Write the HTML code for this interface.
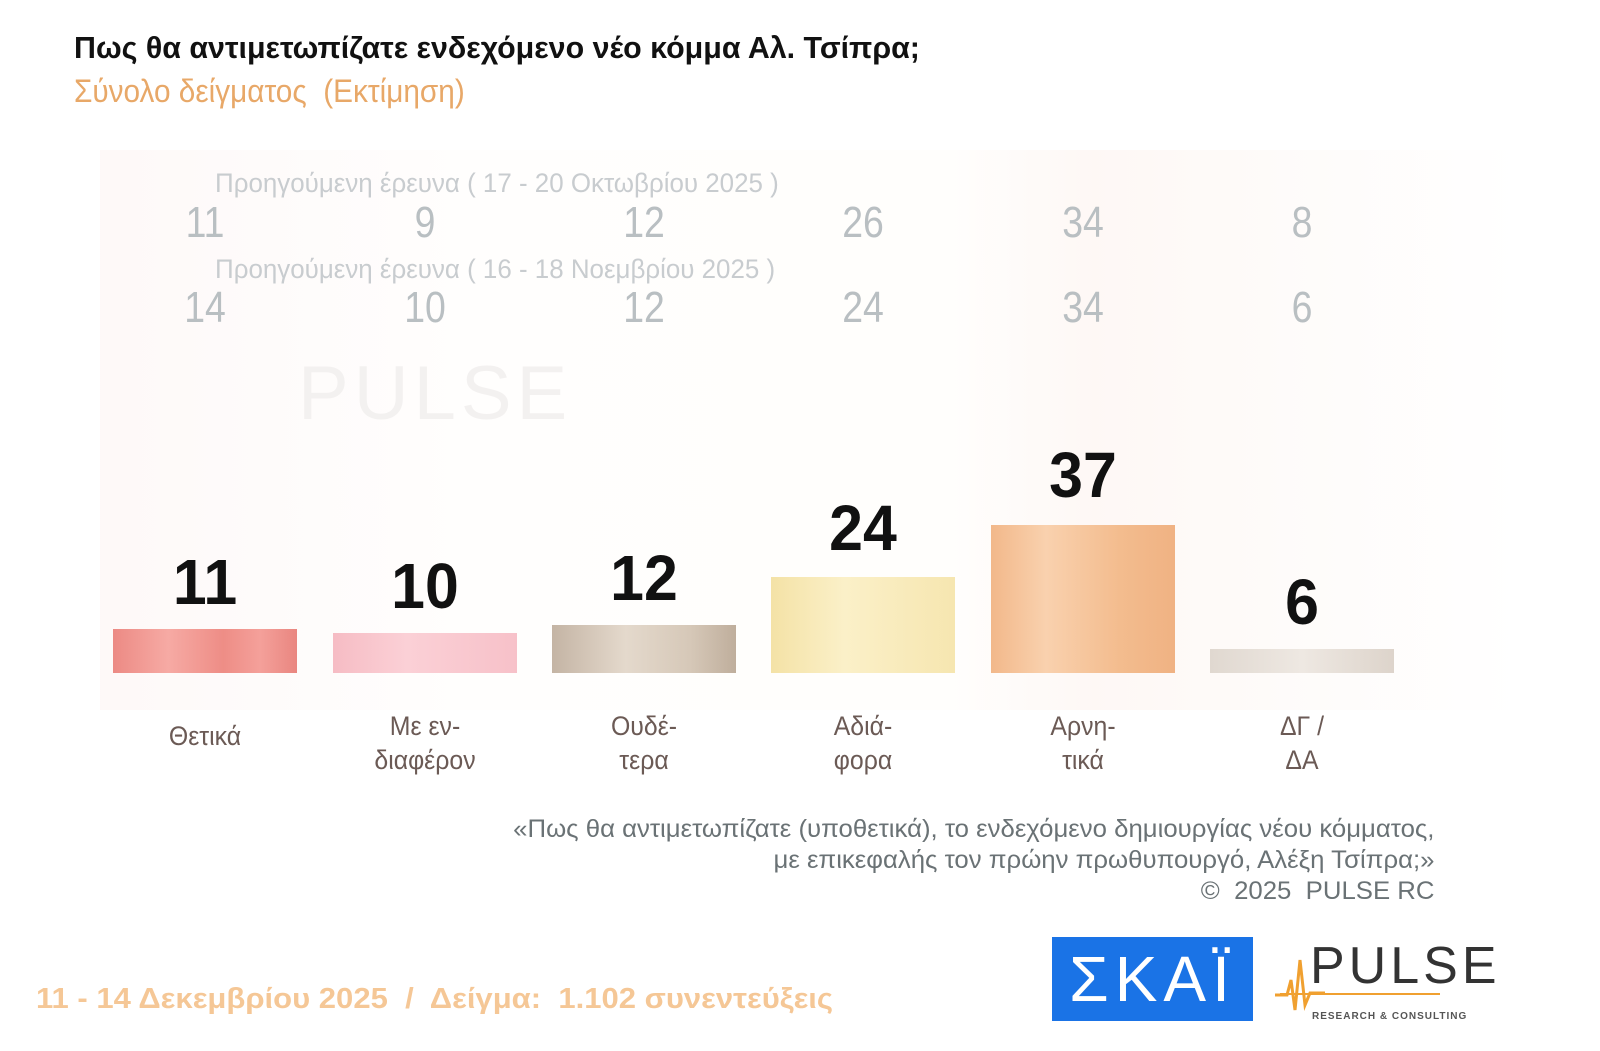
<!DOCTYPE html>
<html><head><meta charset="utf-8"><style>
body{margin:0;width:1600px;height:1051px;background:#fff;position:relative;overflow:hidden;font-family:"Liberation Sans",sans-serif}
.a{position:absolute;white-space:nowrap}
.bar{position:absolute;width:184px;bottom:378px}
.v{position:absolute;font-weight:bold;font-size:64px;color:#111;transform:translateX(-50%) scaleX(.95);}
.o{position:absolute;font-size:44px;color:#b9bfc2;transform:translateX(-50%) scaleX(.85)}
.l{position:absolute;font-size:27px;color:#6b5a55;transform:translateX(-50%) scaleX(.92);text-align:center;line-height:34px}
</style></head><body>
<div class="a" style="left:100px;top:150px;width:1420px;height:560px;background:linear-gradient(90deg,#fdf6f5 0,#fffdfc 25%,#fffdfb 60%,#fdf5f1 70%,#fff 100%);opacity:.7"></div>
<div class="a" style="left:74px;top:30px;font-size:31px;font-weight:bold;color:#111;transform:scaleX(.98);transform-origin:left">Πως θα αντιμετωπίζατε ενδεχόμενο νέο κόμμα Αλ. Τσίπρα;</div>
<div class="a" style="left:74px;top:73px;font-size:32px;color:#e8a868;transform:scaleX(.93);transform-origin:left">Σύνολο δείγματος&nbsp; (Εκτίμηση)</div>
<div class="a" style="left:215px;top:168px;font-size:27px;color:#c8cccf;transform:scaleX(.96);transform-origin:left">Προηγούμενη έρευνα ( 17 - 20 Οκτωβρίου 2025 )</div>
<div class="a" style="left:215px;top:254px;font-size:27px;color:#c8cccf;transform:scaleX(.96);transform-origin:left">Προηγούμενη έρευνα ( 16 - 18 Νοεμβρίου 2025 )</div>
<div class="a" style="left:298px;top:350px;font-size:76px;color:#f3f1f0;letter-spacing:5px">PULSE</div>
<div class="o" style="left:205px;top:198px">11</div><div class="o" style="left:425px;top:198px">9</div><div class="o" style="left:644px;top:198px">12</div><div class="o" style="left:863px;top:198px">26</div><div class="o" style="left:1083px;top:198px">34</div><div class="o" style="left:1302px;top:198px">8</div>
<div class="o" style="left:205px;top:283px">14</div><div class="o" style="left:425px;top:283px">10</div><div class="o" style="left:644px;top:283px">12</div><div class="o" style="left:863px;top:283px">24</div><div class="o" style="left:1083px;top:283px">34</div><div class="o" style="left:1302px;top:283px">6</div>
<div class="bar" style="left:113px;height:44px;background:linear-gradient(90deg,#ec8a84,#f6aaa4 30%,#ee8d86 60%,#f4a09a 80%,#e98680)"></div>
<div class="bar" style="left:333px;height:40px;background:linear-gradient(90deg,#f6bcc4,#fbd0d6 40%,#f7c1c9)"></div>
<div class="bar" style="left:552px;height:48px;background:linear-gradient(90deg,#c4b4a4,#e4d9cc 40%,#d6c8b8 75%,#bfae9c)"></div>
<div class="bar" style="left:771px;height:96px;background:linear-gradient(90deg,#f4e2a6,#fbf0c8 40%,#f6e6b0)"></div>
<div class="bar" style="left:991px;height:148px;background:linear-gradient(90deg,#f2b88a,#f9d1ae 30%,#f3bc8e 70%,#f0b283)"></div>
<div class="bar" style="left:1210px;height:24px;background:linear-gradient(90deg,#e0d8d0,#eee8e2 50%,#ddd4cb)"></div>
<div class="v" style="left:205px;top:545px">11</div>
<div class="v" style="left:425px;top:549px">10</div>
<div class="v" style="left:644px;top:541px">12</div>
<div class="v" style="left:863px;top:491px">24</div>
<div class="v" style="left:1083px;top:438px">37</div>
<div class="v" style="left:1302px;top:565px">6</div>
<div class="l" style="left:205px;top:719px">Θετικά</div>
<div class="l" style="left:425px;top:709px">Με εν-<br>διαφέρον</div>
<div class="l" style="left:644px;top:709px">Ουδέ-<br>τερα</div>
<div class="l" style="left:863px;top:709px">Αδιά-<br>φορα</div>
<div class="l" style="left:1083px;top:709px">Αρνη-<br>τικά</div>
<div class="l" style="left:1302px;top:709px">ΔΓ /<br>ΔΑ</div>
<div class="a" style="right:166px;top:814px;font-size:25px;color:#6a7275;text-align:right;line-height:31px;transform:scaleX(1.03);transform-origin:right">«Πως θα αντιμετωπίζατε (υποθετικά), το ενδεχόμενο δημιουργίας νέου κόμματος,<br>με επικεφαλής τον πρώην πρωθυπουργό, Αλέξη Τσίπρα;»<br>©&nbsp; 2025&nbsp; PULSE RC</div>
<div class="a" style="left:36px;top:983px;font-size:29px;font-weight:bold;color:#f5c796;transform:scaleX(1.07);transform-origin:left">11 - 14 Δεκεμβρίου 2025&nbsp; /&nbsp; Δείγμα:&nbsp; 1.102 συνεντεύξεις</div>
<div class="a" style="left:1052px;top:937px;width:201px;height:84px;background:#1a73e6;color:#fff;font-size:64px;line-height:84px;text-align:center;letter-spacing:6px">ΣΚΑΪ</div>
<div class="a" style="left:1310px;top:940px;font-size:52px;color:#333;letter-spacing:4px;line-height:52px">PULSE</div>
<div class="a" style="left:1280px;top:993px;width:160px;height:2px;background:#f0a030"></div>
<div class="a" style="left:1312px;top:1011px;font-size:10px;font-weight:bold;color:#555;letter-spacing:1px">RESEARCH &amp; CONSULTING</div>
<svg class="a" style="left:1275px;top:950px" width="50" height="70"><polyline points="0,45 12,45 16,30 20,60 25,10 30,55 35,43 50,43" fill="none" stroke="#f0a030" stroke-width="3"/></svg>
</body></html>
